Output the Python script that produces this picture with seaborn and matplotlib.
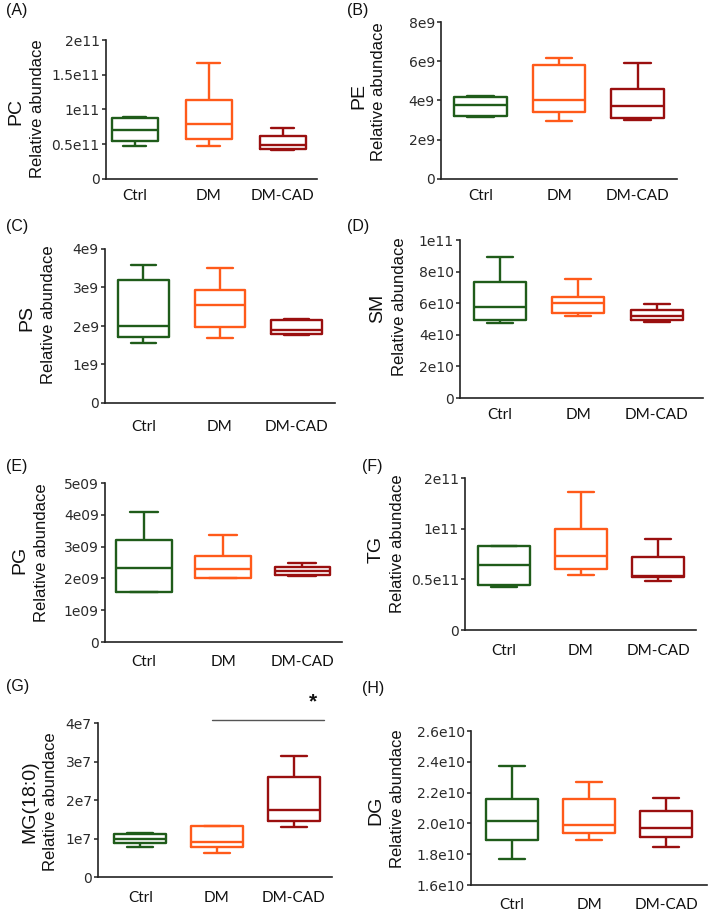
import numpy as np
import pandas as pd
import matplotlib
matplotlib.use("Agg")
import matplotlib.pyplot as plt
import seaborn as sns

sns.set_style("ticks")
plt.rcParams["font.family"] = ["Liberation Sans", "DejaVu Sans"]

groups = ["Ctrl", "DM", "DM-CAD"]
colors = ["#1f5c1a", "#ff5a1a", "#9a0f0f"]

# five-number summaries [min, q1, median, q3, max] per group
PC = [[0.48e11, 0.54e11, 0.70e11, 0.88e11, 0.89e11],
      [0.47e11, 0.58e11, 0.79e11, 1.13e11, 1.675e11],
      [0.42e11, 0.43e11, 0.49e11, 0.62e11, 0.73e11]]
PE = [[3.14e9, 3.20e9, 3.75e9, 4.20e9, 4.22e9],
      [2.93e9, 3.41e9, 4.03e9, 5.83e9, 6.19e9],
      [3.00e9, 3.10e9, 3.71e9, 4.58e9, 5.90e9]]
PS = [[1.57e9, 1.72e9, 2.00e9, 3.19e9, 3.58e9],
      [1.70e9, 1.97e9, 2.54e9, 2.93e9, 3.50e9],
      [1.77e9, 1.78e9, 1.90e9, 2.16e9, 2.18e9]]
SM = [[4.74e10, 4.95e10, 5.79e10, 7.37e10, 8.93e10],
      [5.20e10, 5.37e10, 6.00e10, 6.42e10, 7.52e10],
      [4.78e10, 4.95e10, 5.22e10, 5.58e10, 5.96e10]]
PG = [[1.56e9, 1.58e9, 2.34e9, 3.21e9, 4.08e9],
      [2.00e9, 2.02e9, 2.29e9, 2.71e9, 3.35e9],
      [2.07e9, 2.11e9, 2.23e9, 2.37e9, 2.48e9]]
TG = [[0.425e11, 0.44e11, 0.64e11, 0.83e11, 0.832e11],
      [0.54e11, 0.60e11, 0.73e11, 1.00e11, 1.365e11],
      [0.48e11, 0.52e11, 0.53e11, 0.72e11, 0.90e11]]
MG = [[0.77e7, 0.88e7, 0.99e7, 1.12e7, 1.13e7],
      [0.62e7, 0.77e7, 0.92e7, 1.32e7, 1.33e7],
      [1.30e7, 1.46e7, 1.75e7, 2.60e7, 3.15e7]]
DG = [[1.766e10, 1.889e10, 2.015e10, 2.157e10, 2.374e10],
      [1.891e10, 1.935e10, 1.989e10, 2.157e10, 2.270e10],
      [1.848e10, 1.913e10, 1.972e10, 2.080e10, 2.163e10]]

PC_ticks = [0, 0.5e11, 1e11, 1.5e11, 2e11]
PC_labels = ["0", "0.5e11", "1e11", "1.5e11", "2e11"]
PE_ticks = [0, 2e9, 4e9, 6e9, 8e9]
PE_labels = ["0", "2e9", "4e9", "6e9", "8e9"]
PS_ticks = [0, 1e9, 2e9, 3e9, 4e9]
PS_labels = ["0", "1e9", "2e9", "3e9", "4e9"]
SM_ticks = [0, 2e10, 4e10, 6e10, 8e10, 1e11]
SM_labels = ["0", "2e10", "4e10", "6e10", "8e10", "1e11"]
PG_ticks = [0, 1e9, 2e9, 3e9, 4e9, 5e9]
PG_labels = ["0", "1e09", "2e09", "3e09", "4e09", "5e09"]
TG_ticks = [0, 0.5e11, 1e11, 1.5e11]
TG_labels = ["0", "0.5e11", "1e11", "2e11"]
MG_ticks = [0, 1e7, 2e7, 3e7, 4e7]
MG_labels = ["0", "1e7", "2e7", "3e7", "4e7"]
DG_ticks = [1.6e10, 1.8e10, 2.0e10, 2.2e10, 2.4e10, 2.6e10]
DG_labels = ["1.6e10", "1.8e10", "2.0e10", "2.2e10", "2.4e10", "2.6e10"]

W, H = 709, 921
fig = plt.figure(figsize=(W / 100, H / 100), dpi=100)


def make_axes(l, r, t, b):
    return fig.add_axes([l / W, 1 - b / H, (r - l) / W, (b - t) / H])


panels = [
    # name, data, ticks, labels, axes px (l,r,t,b), xlim, width, letter (x,y), name pos, rel pos, xlabel pad
    ("PC", PC, PC_ticks, PC_labels, (106, 317, 40, 179), (-0.39, 2.46), 0.62, "(A)", (6, 11), (16, 111), (38, 109), 7),
    ("PE", PE, PE_ticks, PE_labels, (441, 677, 22, 179), (-0.5, 2.5), 0.67, "(B)", (347, 11), (359, 96), (379, 92), 7),
    ("PS", PS, PS_ticks, PS_labels, (105, 335, 249, 403), (-0.5, 2.5), 0.66, "(C)", (6, 227), (27, 318), (49, 315), 12),
    ("SM", SM, SM_ticks, SM_labels, (460, 703, 240, 398), (-0.51, 2.59), 0.66, "(D)", (347, 227), (378, 308), (400, 307), 7.5),
    ("PG", PG, PG_ticks, PG_labels, (105, 342, 483, 642), (-0.49, 2.5), 0.70, "(E)", (6, 466), (20, 560), (42, 553), 9),
    ("TG", TG, TG_ticks, TG_labels, (465, 696, 478, 630), (-0.5, 2.49), 0.67, "(F)", (362, 466), (376, 549), (397, 544), 10),
    ("MG(18:0)", MG, MG_ticks, MG_labels, (98, 332, 723, 877), (-0.55, 2.5), 0.68, "(G)", (6, 686), (30, 802), (51, 802), 10),
    ("DG", DG, DG_ticks, DG_labels, (471, 707, 731, 885), (-0.53, 2.53), 0.68, "(H)", (362, 688), (376, 810), (398, 799), 9),
]

for name, data, ticks, labels, box, xlim, width, letter, lpos, npos, rpos, xpad in panels:
    ax = make_axes(*box)
    df = pd.DataFrame({
        "group": np.repeat(groups, [len(v) for v in data]),
        "value": np.concatenate(data),
    })
    sns.boxplot(data=df, x="group", y="value", hue="group", order=groups,
                hue_order=groups, palette=colors, fill=False, whis=(0, 100),
                width=width, linewidth=1.7, showfliers=False, legend=False, ax=ax)
    ax.set_xlim(*xlim)
    ax.set_ylim(ticks[0], ticks[-1])
    ax.set_yticks(ticks)
    ax.set_yticklabels(labels, fontfamily="DejaVu Sans", fontsize=10, color="#2a2a2a")
    ax.set_xticks(range(3))
    ax.set_xticklabels(groups, fontfamily="Lato", fontsize=11, color="#111111")
    ax.tick_params(axis="y", length=3, width=1.1, pad=1.5, color="#222222")
    ax.tick_params(axis="x", length=0, pad=xpad)
    ax.set_xlabel("")
    ax.set_ylabel("")
    for s in ("top", "right"):
        ax.spines[s].set_visible(False)
    for s in ("left", "bottom"):
        ax.spines[s].set_linewidth(1.2)
        ax.spines[s].set_color("#222222")
    ax.patch.set_alpha(0)

    fig.text(lpos[0] / W, 1 - lpos[1] / H, letter, ha="left", va="center",
             fontsize=11.5, color="#111111")
    fig.text(npos[0] / W, 1 - npos[1] / H, name, ha="center", va="center",
             rotation=90, fontsize=14, color="#111111")
    fig.text(rpos[0] / W, 1 - rpos[1] / H, "Relative abundace", ha="center",
             va="center", rotation=90, fontsize=12, color="#111111")

    if name == "MG(18:0)":
        ax.plot([0.94, 2.40], [4.08e7, 4.08e7], color="#555555", lw=1.0, clip_on=False)
        ax.text(2.25, 4.55e7, "*", ha="center", va="center", fontsize=15,
                fontweight="bold", color="#111111", clip_on=False)

fig.savefig("out.png", dpi=100)
